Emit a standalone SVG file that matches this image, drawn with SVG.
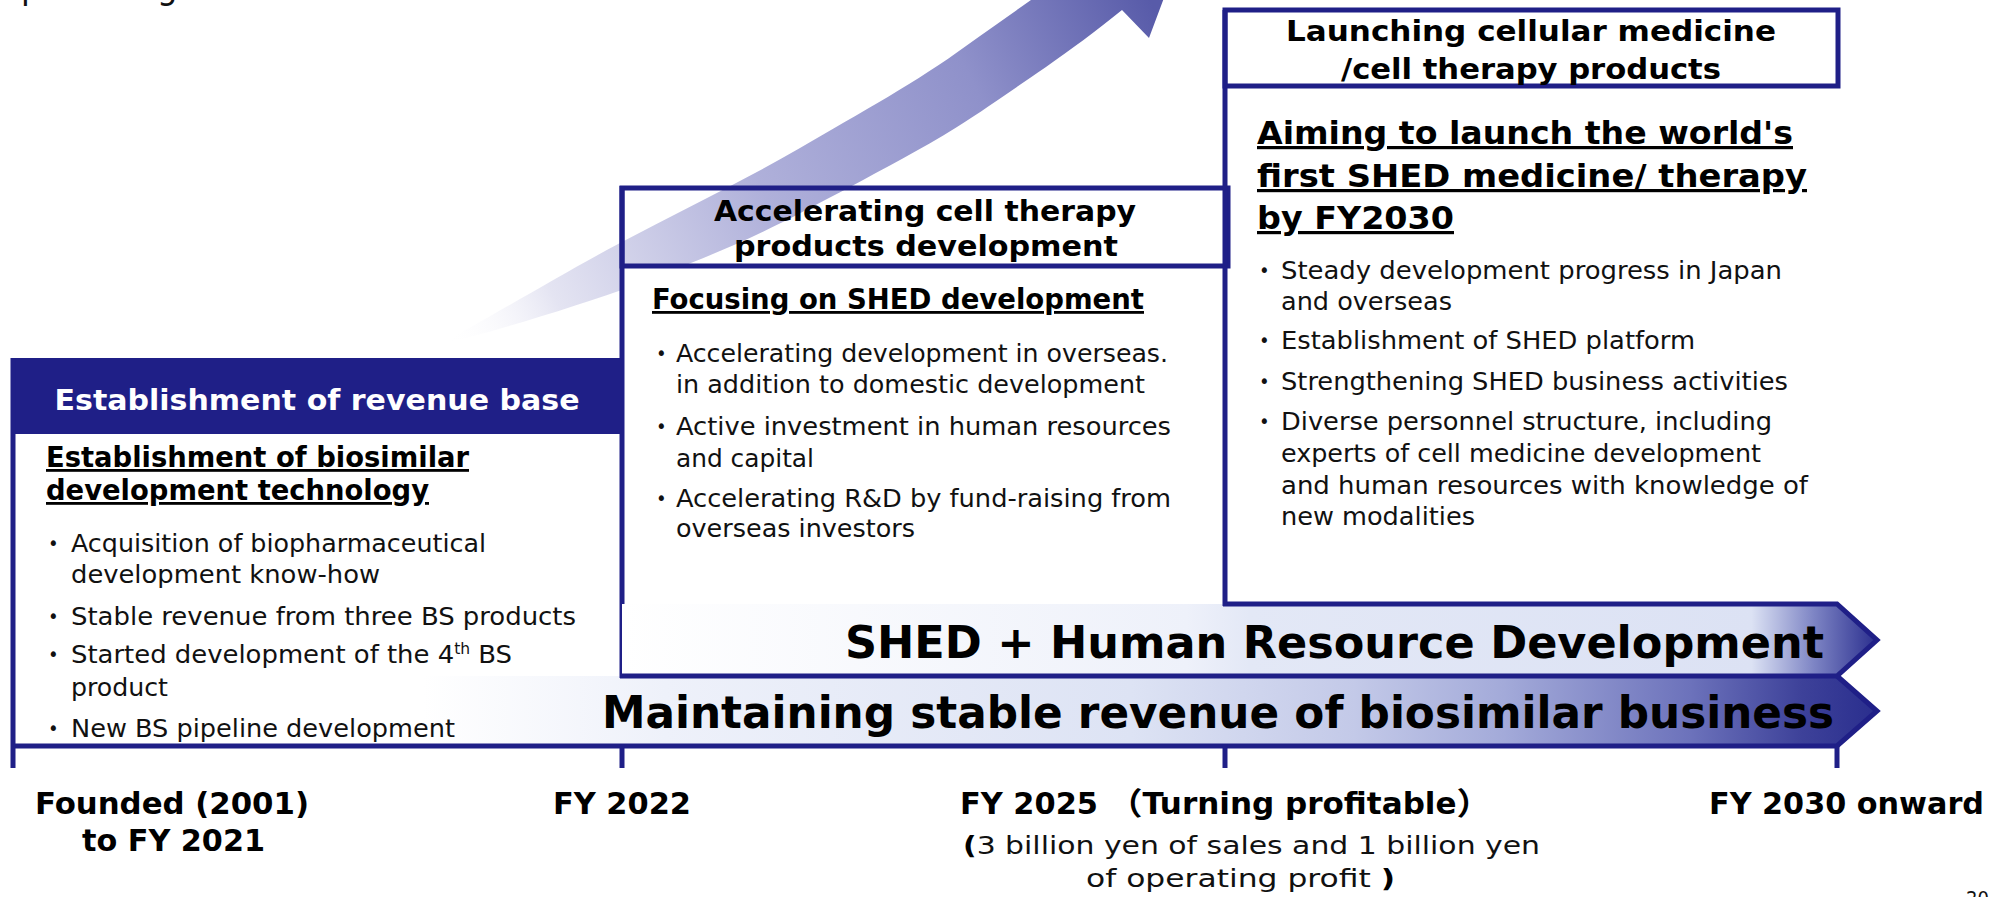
<svg xmlns="http://www.w3.org/2000/svg" width="2007" height="897" viewBox="0 0 2007 897">
<style>
.f{font-family:"DejaVu Sans Condensed","DejaVu Sans",sans-serif;fill:#111}
.b{font-weight:bold;fill:#000}
.w{fill:#fff}
.u{text-decoration:underline}
.hd{font-size:29px}
.sub{font-size:28px}
.sub2{font-size:32px}
.tx{font-size:25px}
.dot{font-size:20px}
.bar{font-size:45px}
.lab{font-size:31px}
.ln{stroke:#1f1f87;stroke-width:5;fill:none}
.c{text-anchor:middle}
</style>
<defs>
<linearGradient id="gSwoosh" gradientUnits="userSpaceOnUse" x1="446" y1="343" x2="1150" y2="0">
<stop offset="0" stop-color="#ffffff" stop-opacity="0"/>
<stop offset="0.15" stop-color="#e4e4f2"/>
<stop offset="0.45" stop-color="#afb0da"/>
<stop offset="0.75" stop-color="#8f91ca"/>
<stop offset="1" stop-color="#585ba9"/>
</linearGradient>
<linearGradient id="gBar1" gradientUnits="userSpaceOnUse" x1="622" y1="0" x2="1877" y2="0">
<stop offset="0" stop-color="#ffffff"/>
<stop offset="0.45" stop-color="#eef1fa"/>
<stop offset="0.5" stop-color="#e3e8f6"/>
<stop offset="0.9" stop-color="#dce2f4"/>
<stop offset="0.95" stop-color="#7d84c4"/>
<stop offset="1" stop-color="#2a2e8e"/>
</linearGradient>
<linearGradient id="gBar2" gradientUnits="userSpaceOnUse" x1="13" y1="0" x2="1877" y2="0">
<stop offset="0" stop-color="#ffffff"/>
<stop offset="0.22" stop-color="#ffffff"/>
<stop offset="0.35" stop-color="#eef1fa"/>
<stop offset="0.6" stop-color="#dde3f4"/>
<stop offset="0.72" stop-color="#c3c9e8"/>
<stop offset="0.8" stop-color="#a3aad9"/>
<stop offset="0.9" stop-color="#6c72bb"/>
<stop offset="0.96" stop-color="#3d4199"/>
<stop offset="1" stop-color="#2a2e8e"/>
</linearGradient>
</defs>

<g id="title-fragment">
<text class="f" x="21" y="-1" font-size="36" fill="#222">p</text>
<text class="f" x="157" y="-1" font-size="36" fill="#222">g</text>
</g>

<g id="connectors">
<path id="growth-arrow" fill="url(#gSwoosh)" d="M446,341 C520,300 560,275 620,243 C680,211 740,183 800,148 C860,113 920,80 966,46 C995,25 1020,8 1045,-10 L1030,-30 L1180,-45 L1149,38 L1122,10 C1095,32 1070,50 1046,67 C1015,88 990,106 957,127 C920,150 885,168 850,187 C810,208 775,227 734,245 C700,260 665,273 636,285 C580,305 500,330 446,343 Z"/>
</g>

<g id="bar-biosimilar">
<polygon points="13,676 1837,676 1877,711 1837,746 13,746" fill="url(#gBar2)"/>
<polyline class="ln" points="1837,676 1877,711 1837,746 13,746"/>
<text class="f b bar" x="602" y="728" textLength="1232" lengthAdjust="spacingAndGlyphs">Maintaining stable revenue of biosimilar business</text>
</g>

<g id="node-middle">
<rect x="622" y="266" width="603" height="338" fill="#fff"/>
<rect class="ln" x="622" y="188" width="606" height="78"/>
<line class="ln" x1="622" y1="186" x2="622" y2="678"/>
<text class="f b hd c" x="925" y="221" textLength="422" lengthAdjust="spacingAndGlyphs">Accelerating cell therapy</text>
<text class="f b hd c" x="926" y="256" textLength="384" lengthAdjust="spacingAndGlyphs">products development</text>
<text class="f b sub u" x="652" y="309" textLength="492" lengthAdjust="spacingAndGlyphs">Focusing on SHED development</text>
<text class="f dot" x="656" y="360">•</text>
<text class="f tx" x="676" y="362" textLength="492" lengthAdjust="spacingAndGlyphs">Accelerating development in overseas.</text>
<text class="f tx" x="676" y="393" textLength="469" lengthAdjust="spacingAndGlyphs">in addition to domestic development</text>
<text class="f dot" x="656" y="433">•</text>
<text class="f tx" x="676" y="435" textLength="495" lengthAdjust="spacingAndGlyphs">Active investment in human resources</text>
<text class="f tx" x="676" y="467" textLength="138" lengthAdjust="spacingAndGlyphs">and capital</text>
<text class="f dot" x="656" y="505">•</text>
<text class="f tx" x="676" y="507" textLength="495" lengthAdjust="spacingAndGlyphs">Accelerating R&amp;D by fund-raising from</text>
<text class="f tx" x="676" y="537" textLength="239" lengthAdjust="spacingAndGlyphs">overseas investors</text>
</g>

<g id="bar-shed">
<polygon points="622,604 1837,604 1877,640 1837,676 622,676" fill="url(#gBar1)"/>
<polyline class="ln" points="1223,604 1837,604 1877,640 1837,676 620,676"/>
<text class="f b bar" x="845" y="658" textLength="979" lengthAdjust="spacingAndGlyphs">SHED + Human Resource Development</text>
</g>

<g id="node-left">
<rect x="11" y="358" width="611" height="76" fill="#1f1f87"/>
<line class="ln" x1="13" y1="358" x2="13" y2="768"/>
<text class="f b hd w c" x="317" y="410" textLength="525" lengthAdjust="spacingAndGlyphs">Establishment of revenue base</text>
<text class="f b sub u" x="46" y="467" textLength="423" lengthAdjust="spacingAndGlyphs">Establishment of biosimilar</text>
<text class="f b sub u" x="46" y="500" textLength="383" lengthAdjust="spacingAndGlyphs">development technology</text>
<text class="f dot" x="48" y="550">•</text>
<text class="f tx" x="71" y="552" textLength="415" lengthAdjust="spacingAndGlyphs">Acquisition of biopharmaceutical</text>
<text class="f tx" x="71" y="583" textLength="309" lengthAdjust="spacingAndGlyphs">development know-how</text>
<text class="f dot" x="48" y="623">•</text>
<text class="f tx" x="71" y="625" textLength="505" lengthAdjust="spacingAndGlyphs">Stable revenue from three BS products</text>
<text class="f dot" x="48" y="661">•</text>
<text class="f tx" x="71" y="663" textLength="441" lengthAdjust="spacingAndGlyphs">Started development of the 4<tspan font-size="15" baseline-shift="super">th</tspan> BS</text>
<text class="f tx" x="71" y="696" textLength="97" lengthAdjust="spacingAndGlyphs">product</text>
<text class="f dot" x="48" y="735">•</text>
<text class="f tx" x="71" y="737" textLength="384" lengthAdjust="spacingAndGlyphs">New BS pipeline development</text>
</g>

<g id="node-right">
<line class="ln" x1="1225" y1="10" x2="1225" y2="606"/>
<rect class="ln" x="1225" y="10" width="613" height="76"/>
<text class="f b hd c" x="1531" y="41" textLength="490" lengthAdjust="spacingAndGlyphs">Launching  cellular medicine</text>
<text class="f b hd c" x="1531" y="79" textLength="380" lengthAdjust="spacingAndGlyphs">/cell therapy products</text>
<text class="f b sub2 u" x="1257" y="144" textLength="536" lengthAdjust="spacingAndGlyphs">Aiming to launch the world's</text>
<text class="f b sub2 u" x="1257" y="187" textLength="550" lengthAdjust="spacingAndGlyphs">first SHED medicine/ therapy</text>
<text class="f b sub2 u" x="1257" y="229" textLength="197" lengthAdjust="spacingAndGlyphs">by FY2030</text>
<text class="f dot" x="1259" y="277">•</text>
<text class="f tx" x="1281" y="279" textLength="501" lengthAdjust="spacingAndGlyphs">Steady development progress in Japan</text>
<text class="f tx" x="1281" y="310" textLength="171" lengthAdjust="spacingAndGlyphs">and overseas</text>
<text class="f dot" x="1259" y="347">•</text>
<text class="f tx" x="1281" y="349" textLength="414" lengthAdjust="spacingAndGlyphs">Establishment of SHED platform</text>
<text class="f dot" x="1259" y="388">•</text>
<text class="f tx" x="1281" y="390" textLength="507" lengthAdjust="spacingAndGlyphs">Strengthening SHED business activities</text>
<text class="f dot" x="1259" y="428">•</text>
<text class="f tx" x="1281" y="430" textLength="491" lengthAdjust="spacingAndGlyphs">Diverse personnel structure, including</text>
<text class="f tx" x="1281" y="462" textLength="480" lengthAdjust="spacingAndGlyphs">experts of cell medicine development</text>
<text class="f tx" x="1281" y="494" textLength="527" lengthAdjust="spacingAndGlyphs">and human resources with knowledge of</text>
<text class="f tx" x="1281" y="525" textLength="194" lengthAdjust="spacingAndGlyphs">new modalities</text>
</g>

<g id="timeline-axis">
<line class="ln" x1="622" y1="744" x2="622" y2="768"/>
<line class="ln" x1="1225" y1="744" x2="1225" y2="768"/>
<line class="ln" x1="1837" y1="744" x2="1837" y2="768"/>
</g>

<g id="timeline-labels">
<text class="f b lab" x="35" y="814" textLength="274" lengthAdjust="spacingAndGlyphs">Founded (2001)</text>
<text class="f b lab" x="82" y="851" textLength="183" lengthAdjust="spacingAndGlyphs">to FY 2021</text>
<text class="f b lab" x="553" y="814" textLength="138" lengthAdjust="spacingAndGlyphs">FY 2022</text>
<text class="f b lab" x="960" y="814" textLength="138" lengthAdjust="spacingAndGlyphs">FY 2025</text>
<text class="f b lab" x="1108" y="814" textLength="383" lengthAdjust="spacingAndGlyphs" style="font-family:'DejaVu Sans Condensed','DejaVu Sans','Noto Sans CJK JP',sans-serif">（Turning profitable）</text>
<text class="f tx" x="963" y="854" font-size="27" textLength="577" lengthAdjust="spacingAndGlyphs"><tspan font-weight="bold" fill="#000">(</tspan>3 billion yen of sales and 1 billion yen</text>
<text class="f tx" x="1086" y="887" font-size="27" textLength="309" lengthAdjust="spacingAndGlyphs">of operating profit <tspan font-weight="bold" fill="#000">)</tspan></text>
<text class="f b lab" x="1709" y="814" textLength="275" lengthAdjust="spacingAndGlyphs">FY 2030 onward</text>
<text class="f" x="1966" y="905" font-size="20" fill="#444">20</text>
</g>
</svg>
